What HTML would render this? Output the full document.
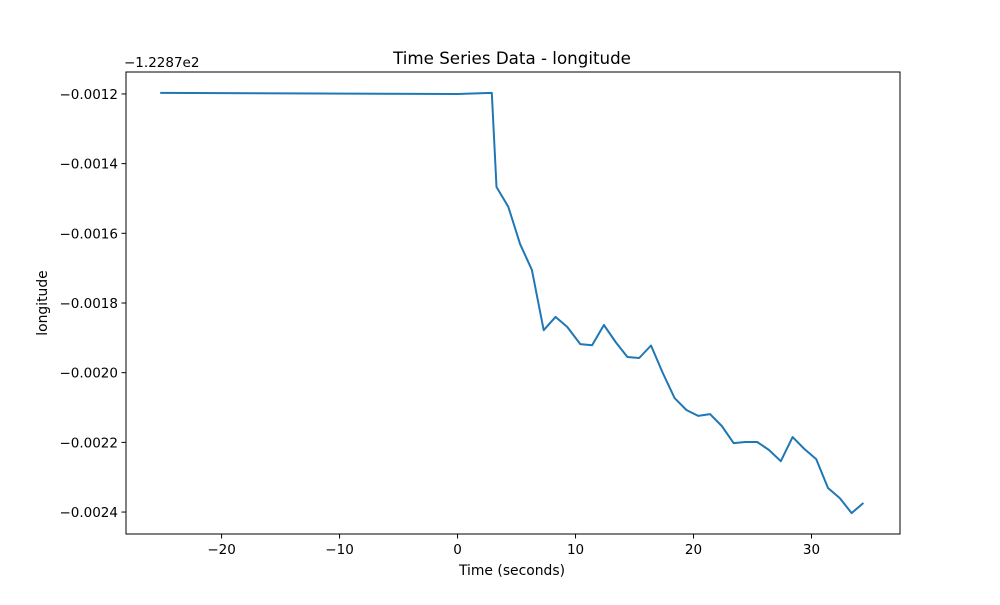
<!DOCTYPE html>
<html><head><meta charset="utf-8"><style>
body{margin:0;background:#fff;font-family:"Liberation Sans","DejaVu Sans",sans-serif;}
svg text{font-family:"DejaVu Sans","Liberation Sans",sans-serif;fill:#000;}
</style></head><body>
<svg id="chart" width="1000" height="600" xmlns="http://www.w3.org/2000/svg">
<rect width="1000" height="600" fill="#fff"/>
<text x="512" y="64" font-size="16.7" text-anchor="middle">Time Series Data - longitude</text>
<text x="124" y="67" font-size="13.5">−1.2287e2</text>
<text x="512" y="575" font-size="13.9" text-anchor="middle">Time (seconds)</text>
<text x="47" y="303" font-size="13.9" text-anchor="middle" transform="rotate(-90 47 303)">longitude</text>
<g id="ticks"></g>
<path id="line" fill="none" stroke="#1f77b4" stroke-width="2" stroke-linejoin="round"/>
<rect x="126" y="72" width="774" height="462" fill="none" stroke="#000" stroke-width="1"/>
</svg>
<script>
const times=[-25.2,0,2.9,3.3,4.3,5.3,6.3,7.3,8.3,9.3,10.4,11.4,12.4,13.4,14.4,15.4,16.4,17.4,18.4,19.4,20.4,21.4,22.4,23.4,24.4,25.4,26.4,27.4,28.4,29.4,30.4,31.4,32.4,33.4,34.4];
const values=[-0.001197,-0.0012,-0.001197,-0.001467,-0.001524,-0.001631,-0.001705,-0.001878,-0.00184,-0.001869,-0.001918,-0.001921,-0.001863,-0.001912,-0.001955,-0.001958,-0.001922,-0.002001,-0.002073,-0.002107,-0.002124,-0.002119,-0.002153,-0.002202,-0.002199,-0.002199,-0.002222,-0.002254,-0.002185,-0.002219,-0.002248,-0.002331,-0.00236,-0.002403,-0.002374];
const xTicks=[-20,-10,0,10,20,30];
const yTicks=[-0.0012,-0.0014,-0.0016,-0.0018,-0.0020,-0.0022,-0.0024];
const yTickLabels=["−0.0012","−0.0014","−0.0016","−0.0018","−0.0020","−0.0022","−0.0024"];
const X0=-28.1,X1=37.5,Y0=-0.002463,Y1=-0.001137;
function sx(v){return 126+(v-X0)/(X1-X0)*774;}
function sy(v){return 534-(v-Y0)/(Y1-Y0)*462;}
const NS="http://www.w3.org/2000/svg";
const g=document.getElementById('ticks');
xTicks.forEach(t=>{
  const l=document.createElementNS(NS,'line');
  l.setAttribute('x1',sx(t));l.setAttribute('x2',sx(t));l.setAttribute('y1',534);l.setAttribute('y2',538.5);l.setAttribute('stroke','#000');
  
  
  g.appendChild(l);
  const tx=document.createElementNS(NS,'text');
  tx.setAttribute('x',sx(t));tx.setAttribute('y',554);tx.setAttribute('font-size','13.5');tx.setAttribute('text-anchor','middle');
  tx.textContent=t<0?'−'+(-t):String(t);
  
  
  g.appendChild(tx);
});
yTicks.forEach((t,i)=>{
  const l=document.createElementNS(NS,'line');
  l.setAttribute('x1',121.5);l.setAttribute('x2',126);l.setAttribute('y1',sy(t));l.setAttribute('y2',sy(t));l.setAttribute('stroke','#000');
  
  
  g.appendChild(l);
  const tx=document.createElementNS(NS,'text');
  tx.setAttribute('x',118);tx.setAttribute('y',sy(t)+5);tx.setAttribute('font-size','13.5');tx.setAttribute('text-anchor','end');
  tx.textContent=yTickLabels[i];
  
  
  g.appendChild(tx);
});
document.getElementById('line').setAttribute('d',times.map((t,i)=>(i?'L':'M')+sx(t).toFixed(1)+' '+sy(values[i]).toFixed(1)).join(' '));
</script>
</body></html>
